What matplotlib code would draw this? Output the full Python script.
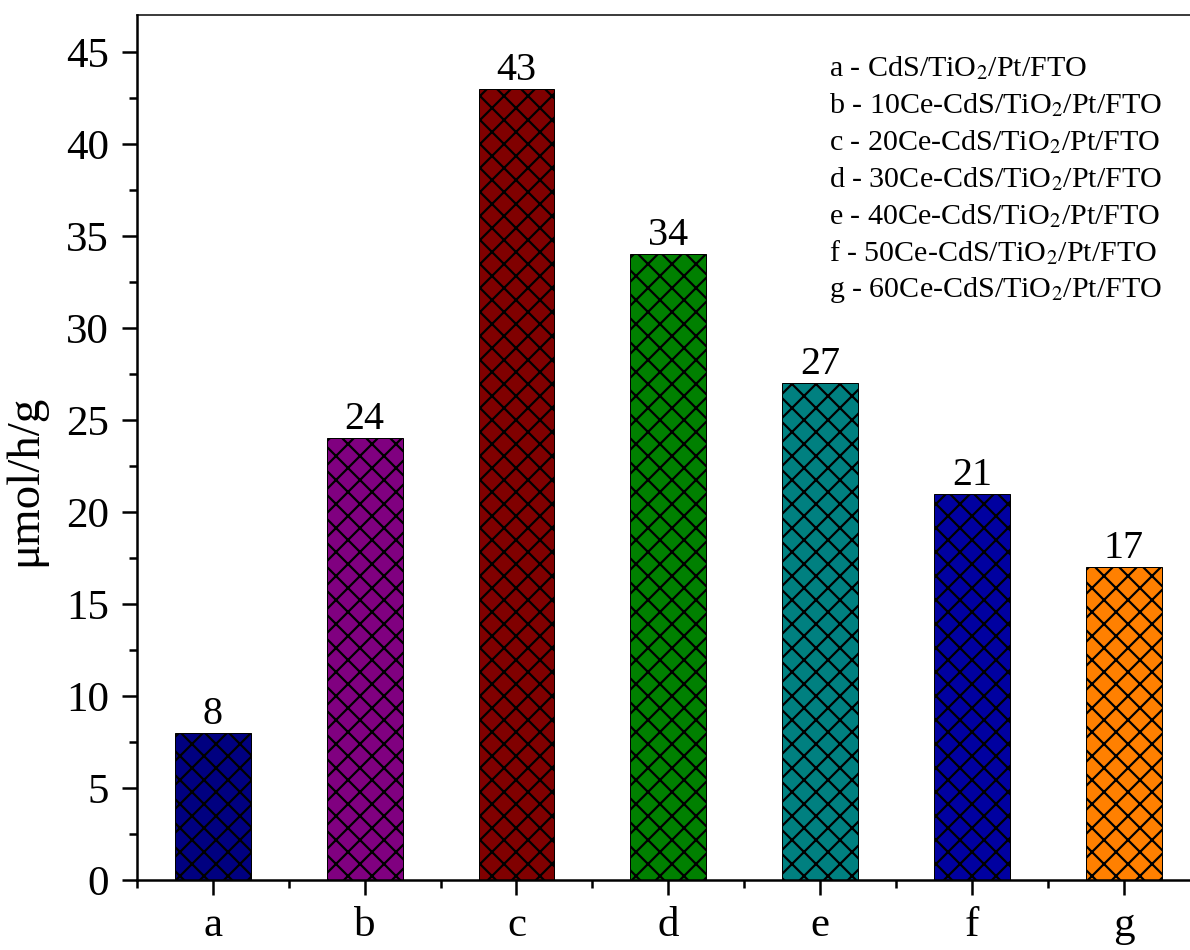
import matplotlib
matplotlib.use('Agg')
import matplotlib.pyplot as plt
from matplotlib.ticker import MultipleLocator

plt.rcParams['font.family'] = ['Liberation Serif', 'DejaVu Serif']
plt.rcParams['mathtext.fontset'] = 'stix'
plt.rcParams['hatch.linewidth'] = 2.2
plt.rcParams['hatch.color'] = 'black'

samples = ['a', 'b', 'c', 'd', 'e', 'f', 'g']
rates = [8, 24, 43, 34, 27, 21, 17]
colors = ['#000080', '#800080', '#800000', '#008000', '#008080', '#0000A0', '#FF8000']
names = ['CdS/TiO$_2$/Pt/FTO',
         '10Ce-CdS/TiO$_2$/Pt/FTO',
         '20Ce-CdS/TiO$_2$/Pt/FTO',
         '30Ce-CdS/TiO$_2$/Pt/FTO',
         '40Ce-CdS/TiO$_2$/Pt/FTO',
         '50Ce-CdS/TiO$_2$/Pt/FTO',
         '60Ce-CdS/TiO$_2$/Pt/FTO']

# 72 dpi so one point is one pixel (also keeps the crosshatch fine)
fig = plt.figure(figsize=(1190 / 72, 950 / 72), dpi=72)
ax = fig.add_axes([0.1151, 0.0737, 0.893, 0.9105])

x = list(range(len(samples)))
ax.bar(x, rates, width=0.5, color=colors, edgecolor='black',
       linewidth=1.0, hatch='x')

for xi, v in zip(x, rates):
    ax.text(xi, v, str(v), ha='center', va='bottom', fontsize=40)

ax.set_xlim(-0.5, 6.5)
ax.set_ylim(0, 47)
ax.set_xticks(x)
ax.set_xticklabels(samples)
ax.set_xticks([i - 0.5 for i in range(len(samples) + 1)], minor=True)
ax.yaxis.set_major_locator(MultipleLocator(5))
ax.yaxis.set_minor_locator(MultipleLocator(2.5))

ax.tick_params(which='major', length=15, width=2.5, labelsize=43, pad=13)
ax.tick_params(which='minor', length=8, width=2.5)
ax.tick_params(axis='x', which='major', pad=12)

ax.spines['left'].set_linewidth(2.5)
ax.spines['bottom'].set_linewidth(2.5)
ax.spines['top'].set_linewidth(1.5)
ax.spines['right'].set_visible(False)

ax.set_ylabel('μmol/h/g', fontsize=47)
ax.yaxis.set_label_coords(-0.085, 0.462)

# sample key in the upper right corner
for i, (s, n) in enumerate(zip(samples, names)):
    fig.text(0.697, 1 - (68 + 37 * i) / 950, s + ' - ' + n,
             fontsize=30, ha='left', va='center')

fig.savefig('out.png', dpi=72)
